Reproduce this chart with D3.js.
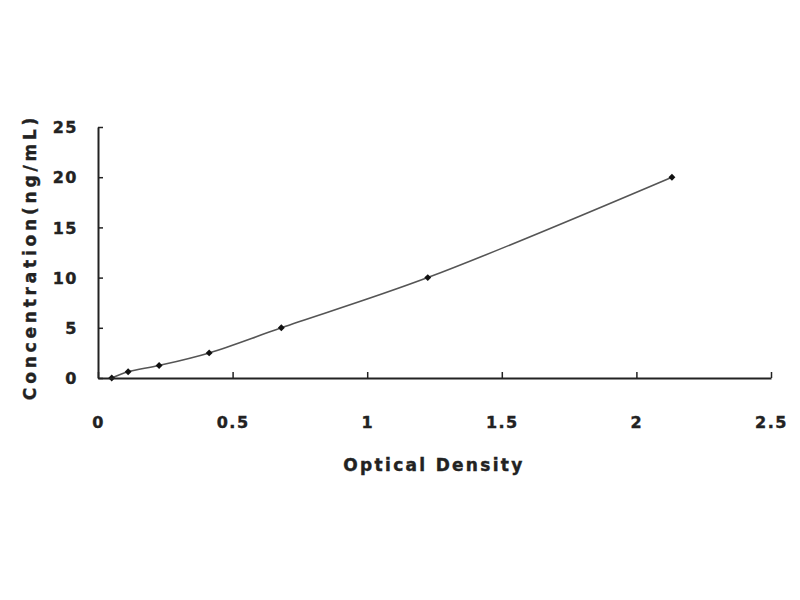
<!DOCTYPE html>
<html><head><meta charset="utf-8">
<script src="https://cdn.jsdelivr.net/npm/d3@7/dist/d3.min.js"></script>
<style>body{margin:0;background:#fff;} text{font-family:"DejaVu Sans",Verdana,sans-serif;font-weight:bold;fill:#222;stroke:#222;stroke-width:0.4px;}</style>
</head><body>
<svg id="c" width="800" height="600"></svg>
<script>
const od = [0.051, 0.112, 0.227, 0.413, 0.681, 1.225, 2.132];
const conc = [0, 0.625, 1.25, 2.5, 5, 10, 20];
const xTicks = [0, 0.5, 1, 1.5, 2, 2.5];
const yTicks = [0, 5, 10, 15, 20, 25];

const svg = d3.select("#c");
const x = d3.scaleLinear().domain([0, 2.5]).range([98, 771]);
const y = d3.scaleLinear().domain([0, 25]).range([378, 127]);

const pts = od.map((d, i) => [d, conc[i]]);
svg.append("path")
  .attr("d", d3.line().x(d => x(d[0])).y(d => y(d[1])).curve(d3.curveCatmullRom.alpha(0.5))(pts))
  .attr("fill", "none").attr("stroke", "#555").attr("stroke-width", 1.6);

svg.selectAll(".m").data(pts).enter().append("path")
  .attr("d", d3.symbol().type(d3.symbolSquare).size(24)())
  .attr("transform", d => `translate(${x(d[0])},${y(d[1])}) rotate(45)`)
  .attr("fill", "#111");

const xAxis = svg.append("g").attr("transform", "translate(0,378)")
  .call(d3.axisBottom(x).tickValues(xTicks).tickSize(-6).tickSizeOuter(0).tickFormat(d => d3.format("")(d)));
const yAxis = svg.append("g").attr("transform", "translate(98,0)")
  .call(d3.axisLeft(y).tickValues(yTicks).tickSize(-5).tickSizeOuter(0));
[xAxis, yAxis].forEach(g => {
  g.select(".domain").attr("stroke", "#222").attr("stroke-width", 2);
  g.selectAll(".tick line").attr("stroke", "#222").attr("stroke-width", 1.5);
  g.selectAll(".tick text").attr("font-size", 16).attr("fill", "#222")
    .attr("font-family", '"DejaVu Sans",Verdana,sans-serif').attr("font-weight", "bold")
    .attr("letter-spacing", 1.5);
});
xAxis.selectAll(".tick text").attr("dy", 0).attr("y", 50);
yAxis.selectAll(".tick text").attr("x", -20).attr("dy", "0.35em");

svg.append("text").attr("x", 434).attr("y", 471).attr("text-anchor", "middle")
  .attr("font-size", 17).attr("letter-spacing", 2.3).text("Optical Density");
svg.append("text").attr("transform", "translate(36,257) rotate(-90)").attr("text-anchor", "middle")
  .attr("font-size", 17).attr("letter-spacing", 3.8).text("Concentration(ng/mL)");
</script>
</body></html>
